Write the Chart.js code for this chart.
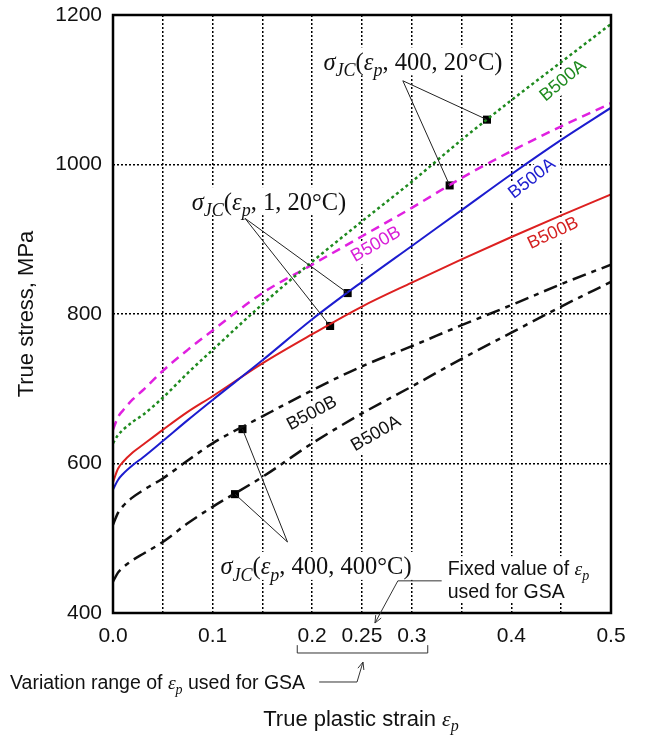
<!DOCTYPE html>
<html>
<head>
<meta charset="utf-8">
<script src="https://cdn.jsdelivr.net/npm/chart.js@4.4.0/dist/chart.umd.min.js"></script>
<style>
  html, body { margin: 0; padding: 0; background: #fff; }
</style>
</head>
<body>
<canvas id="chart" width="651" height="736"></canvas>
<script>
// strain points and the six Johnson-Cook curves (MPa)
var strain   = [0, 0.005, 0.01, 0.02, 0.03, 0.05, 0.075, 0.1, 0.15, 0.2, 0.25, 0.3, 0.35, 0.4, 0.45, 0.5];
var a400_20  = [627, 638, 645, 656, 665, 688, 721, 752, 813, 870, 924, 977, 1033, 1086, 1137, 1188];
var b400_20  = [645, 662, 671, 686, 698, 724, 752, 778, 828, 866, 904, 942, 982, 1018, 1051, 1082];
var a1_20    = [565, 578, 586, 598, 608, 630, 658, 685, 738, 793, 843, 891, 939, 987, 1033, 1076];
var b1_20    = [575, 593, 602, 615, 625, 645, 669, 690, 734, 773, 810, 842, 873, 903, 932, 960];
var b400_400 = [518, 534, 543, 555, 564, 580, 604, 627, 663, 698, 730, 757, 785, 812, 840, 866];
var a400_400 = [442, 454, 461, 471, 479, 495, 520, 542, 582, 627, 667, 703, 740, 775, 810, 843];

// square markers picked on the curves
var markStrain = [0.3755, 0.338, 0.2356, 0.218, 0.13, 0.1225];
var markStress = [1060, 972, 828, 784, 646, 559];

// axis ticks
var xGrid = [0, 0.05, 0.1, 0.15, 0.2, 0.25, 0.3, 0.35, 0.4, 0.45, 0.5];
var xTickText = ['0.0', '', '0.1', '', '0.2', '0.25', '0.3', '', '0.4', '', '0.5'];
var yMin = 400, yMax = 1200, yStep = 200;

function pts(ys) {
  return strain.map(function (x, i) { return { x: x, y: ys[i] }; });
}

var SANS = '"Liberation Sans", Arial, sans-serif';
var SERIF = '"Liberation Serif", "Times New Roman", serif';

// text pieces: n = sans, sn = serif, si = serif italic, sis = serif italic subscript
function fontOf(style, size) {
  if (style === 'n') return size + 'px ' + SANS;
  if (style === 'sn') return size + 'px ' + SERIF;
  if (style === 'si') return 'italic ' + size + 'px ' + SERIF;
  return 'italic ' + Math.round(size * 0.72) + 'px ' + SERIF;
}
function richWidth(ctx, parts, size) {
  var w = 0;
  parts.forEach(function (p) { ctx.font = fontOf(p[1], size); w += ctx.measureText(p[0]).width; });
  return w;
}
function drawRich(ctx, parts, x, y, size, align) {
  var w = richWidth(ctx, parts, size);
  var cx = align === 'center' ? x - w / 2 : x;
  ctx.textAlign = 'left';
  ctx.textBaseline = 'alphabetic';
  parts.forEach(function (p) {
    ctx.font = fontOf(p[1], size);
    ctx.fillText(p[0], cx, y + size * 0.35 + (p[1] === 'sis' ? size * 0.25 : 0));
    cx += ctx.measureText(p[0]).width;
  });
  return w;
}
function sigma(args) {
  return [['σ', 'si'], ['JC', 'sis'], ['(', 'sn'], ['ε', 'si'], ['p', 'sis'], [args, 'sn']];
}

// annotation layout, in data units (strain, stress)
var notes = [
  { parts: sigma(', 400, 20°C)'), at: [0.3012, 1138], from: [0.291, 1112], to: [0, 1] },
  { parts: sigma(', 1, 20°C)'), at: [0.1566, 951], from: [0.1325, 928], to: [2, 3] },
  { parts: sigma(', 400, 400°C)'), at: [0.2038, 463], from: [0.1752, 495], to: [4, 5] }
];
var curveLabels = [
  { text: 'B500A', color: '#1e8a1e', at: [0.4518, 1112], angle: -40 },
  { text: 'B500A', color: '#1c1ccf', at: [0.4207, 981], angle: -38 },
  { text: 'B500B', color: '#d42020', at: [0.4418, 908], angle: -25 },
  { text: 'B500B', color: '#d81ed8', at: [0.264, 893], angle: -30 },
  { text: 'B500B', color: '#111', at: [0.1998, 667], angle: -28 },
  { text: 'B500A', color: '#111', at: [0.264, 640], angle: -30 }
];

function px(chart, p) {
  return [chart.scales.x.getPixelForValue(p[0]), chart.scales.y.getPixelForValue(p[1])];
}
function arrowHead(ctx, x0, y0, x1, y1) {
  var a = Math.atan2(y1 - y0, x1 - x0), L = 8;
  ctx.beginPath();
  ctx.moveTo(x1 - L * Math.cos(a - 0.4), y1 - L * Math.sin(a - 0.4));
  ctx.lineTo(x1, y1);
  ctx.lineTo(x1 - L * Math.cos(a + 0.4), y1 - L * Math.sin(a + 0.4));
  ctx.stroke();
}

var NOTE_SIZE = 24.5, LABEL_SIZE = 18, SMALL_SIZE = 19.5;

var annotations = {
  id: 'annotations',
  beforeDatasetsDraw: function (chart) {
    var ctx = chart.ctx;
    ctx.save();
    ctx.fillStyle = '#fff';
    notes.forEach(function (n) {
      var p = px(chart, n.at), w = richWidth(ctx, n.parts, NOTE_SIZE);
      ctx.fillRect(p[0] - w / 2 - 3, p[1] - 14, w + 6, 28);
    });
    ctx.font = LABEL_SIZE + 'px ' + SANS;
    curveLabels.forEach(function (l) {
      var p = px(chart, l.at), w = ctx.measureText(l.text).width;
      ctx.save();
      ctx.translate(p[0], p[1]);
      ctx.rotate(l.angle * Math.PI / 180);
      ctx.fillRect(-w / 2 - 3, -10, w + 6, 20);
      ctx.restore();
    });
    ctx.restore();
  },
  afterDatasetsDraw: function (chart) {
    var ctx = chart.ctx;
    ctx.save();
    ctx.strokeStyle = '#222';
    ctx.lineWidth = 1;
    notes.forEach(function (n) {
      var f = px(chart, n.from);
      n.to.forEach(function (k) {
        var m = px(chart, [markStrain[k], markStress[k]]);
        ctx.beginPath(); ctx.moveTo(f[0], f[1]); ctx.lineTo(m[0], m[1]); ctx.stroke();
      });
      ctx.fillStyle = '#111';
      var p = px(chart, n.at);
      drawRich(ctx, n.parts, p[0], p[1], NOTE_SIZE, 'center');
    });
    ctx.font = LABEL_SIZE + 'px ' + SANS;
    ctx.textAlign = 'center';
    ctx.textBaseline = 'middle';
    curveLabels.forEach(function (l) {
      var p = px(chart, l.at);
      ctx.save();
      ctx.translate(p[0], p[1]);
      ctx.rotate(l.angle * Math.PI / 180);
      ctx.fillStyle = l.color;
      ctx.fillText(l.text, 0, 0);
      ctx.restore();
    });
    ctx.restore();
  },
  afterDraw: function (chart) {
    var ctx = chart.ctx, a = chart.chartArea;
    ctx.save();
    // frame
    ctx.strokeStyle = '#000';
    ctx.lineWidth = 2.5;
    ctx.strokeRect(a.left, a.top, a.right - a.left, a.bottom - a.top);

    ctx.strokeStyle = '#333';
    ctx.lineWidth = 1;
    // fixed value of strain
    var t1 = px(chart, [0.336, 460]), t2 = px(chart, [0.336, 429]);
    ctx.fillStyle = '#fff';
    ctx.fillRect(t1[0] - 2, t1[1] - 12, 152, 46);
    ctx.fillStyle = '#111';
    drawRich(ctx, [['Fixed value of ', 'n'], ['ε', 'si'], ['p', 'sis']], t1[0], t1[1], SMALL_SIZE, 'left');
    drawRich(ctx, [['used for GSA', 'n']], t2[0], t2[1], SMALL_SIZE, 'left');
    var f1 = px(chart, [0.330, 443]), f2 = px(chart, [0.286, 443]), f3 = px(chart, [0.263, 386.6]);
    ctx.beginPath(); ctx.moveTo(f1[0], f1[1]); ctx.lineTo(f2[0], f2[1]); ctx.lineTo(f3[0], f3[1]); ctx.stroke();
    arrowHead(ctx, f2[0], f2[1], f3[0], f3[1]);

    // variation range bracket
    var b1 = px(chart, [0.185, 357]), b2 = px(chart, [0.316, 346.5]);
    ctx.beginPath();
    ctx.moveTo(b1[0], b1[1]); ctx.lineTo(b1[0], b2[1]); ctx.lineTo(b2[0], b2[1]); ctx.lineTo(b2[0], b1[1]);
    ctx.stroke();
    var v1 = px(chart, [0.207, 307.7]), v2 = px(chart, [0.245, 307.7]), v3 = px(chart, [0.251, 334.4]);
    ctx.beginPath(); ctx.moveTo(v1[0], v1[1]); ctx.lineTo(v2[0], v2[1]); ctx.lineTo(v3[0], v3[1]); ctx.stroke();
    arrowHead(ctx, v2[0], v2[1], v3[0], v3[1]);
    drawRich(ctx, [['Variation range of ', 'n'], ['ε', 'si'], ['p', 'sis'], [' used for GSA', 'n']], 10, v1[1], SMALL_SIZE, 'left');

    // x axis title
    drawRich(ctx, [['True plastic strain ', 'n'], ['ε', 'si'], ['p', 'sis']], (a.left + a.right) / 2 - 1, 718, 22, 'center');
    ctx.restore();
  }
};

function series(ys, color, dash, width) {
  return {
    data: pts(ys), borderColor: color, borderDash: dash, borderWidth: width,
    pointRadius: 0, fill: false, cubicInterpolationMode: 'monotone'
  };
}

var ctx = document.getElementById('chart').getContext('2d');
var chart = new Chart(ctx, {
  type: 'line',
  data: {
    datasets: [
      series(a400_20, '#1e8a1e', [3, 3], 2.5),
      series(b400_20, '#e020e0', [9, 6], 2.5),
      series(a1_20, '#1c1ccf', [], 2),
      series(b1_20, '#dd2020', [], 2),
      series(b400_400, '#111', [14, 6, 5, 6], 2.5),
      series(a400_400, '#111', [14, 6, 5, 6], 2.5),
      {
        data: markStrain.map(function (x, i) { return { x: x, y: markStress[i] }; }),
        showLine: false, pointStyle: 'rect', pointRadius: 5.7,
        backgroundColor: '#000', borderColor: '#000', borderWidth: 0
      }
    ]
  },
  options: {
    responsive: false,
    animation: false,
    layout: { padding: { top: 15, right: 40, left: 0, bottom: 0 } },
    plugins: { legend: { display: false }, tooltip: { enabled: false } },
    scales: {
      x: {
        type: 'linear', min: 0, max: 0.5,
        afterBuildTicks: function (s) { s.ticks = xGrid.map(function (v) { return { value: v }; }); },
        afterFit: function (s) { s.height = 123; s.paddingLeft = 0; s.paddingRight = 0; },
        ticks: {
          autoSkip: false, maxRotation: 0, padding: 11, color: '#111',
          font: { family: SANS, size: 21 },
          callback: function (v, i) { return xTickText[i]; }
        },
        grid: { color: '#000', lineWidth: 1.5, drawTicks: false },
        border: { display: false, dash: [2, 2] }
      },
      y: {
        min: yMin, max: yMax,
        afterFit: function (s) { s.width = 113; s.paddingTop = 0; s.paddingBottom = 0; },
        ticks: {
          stepSize: yStep, padding: 11, color: '#111', font: { family: SANS, size: 21 },
          callback: function (v) { return String(v); }
        },
        grid: { color: '#000', lineWidth: 1.5, drawTicks: false },
        border: { display: false, dash: [2, 2] },
        title: {
          display: true, text: 'True stress, MPa', color: '#111',
          font: { family: SANS, size: 22, weight: 'normal' }, padding: { top: 14 }
        }
      }
    }
  },
  plugins: [annotations]
});
</script>
</body>
</html>
